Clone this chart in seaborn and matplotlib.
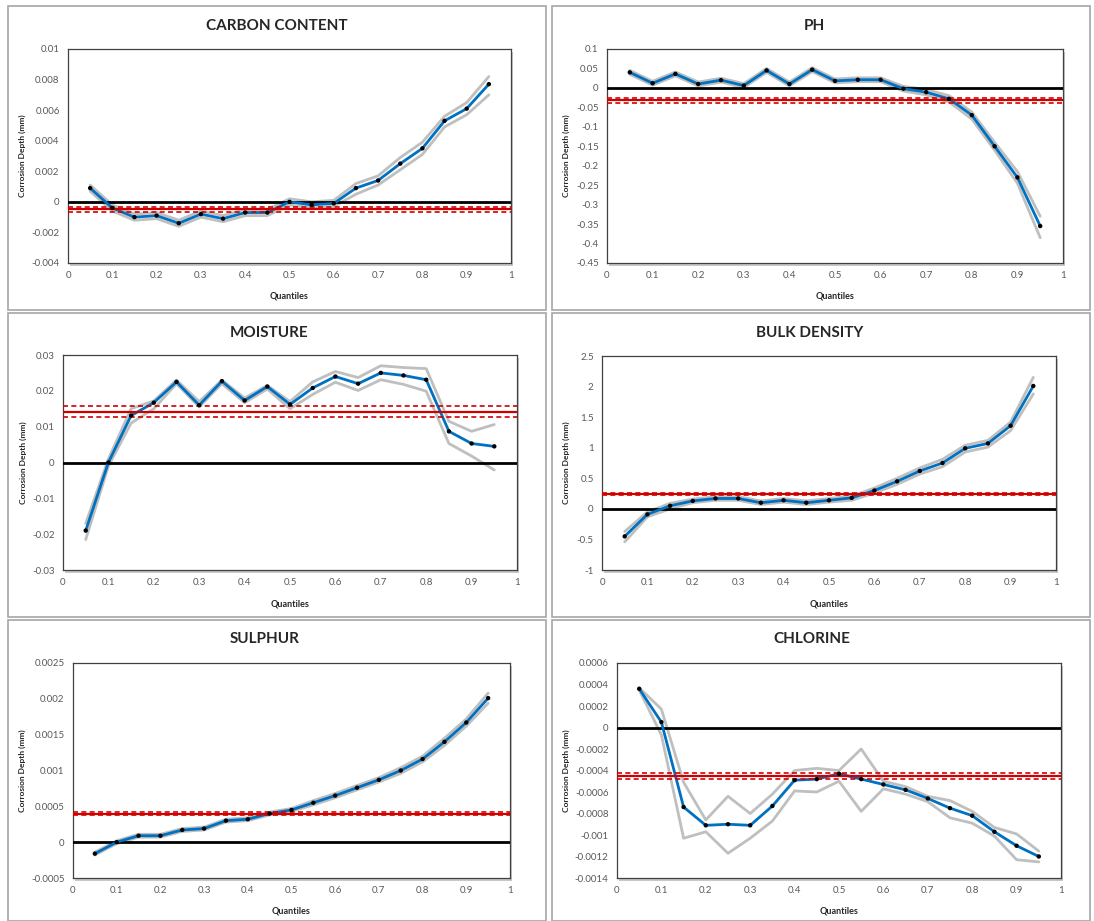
import matplotlib
matplotlib.use("Agg")
import matplotlib.pyplot as plt
import matplotlib.ticker as mticker
from matplotlib.patches import Rectangle
import pandas as pd
import seaborn as sns

# =========================================================
# データ
# =========================================================
quantiles = [0.05, 0.1, 0.15, 0.2, 0.25, 0.3, 0.35, 0.4, 0.45, 0.5,
             0.55, 0.6, 0.65, 0.7, 0.75, 0.8, 0.85, 0.9, 0.95]

carbon_mean = [0.0009, -0.0004, -0.001, -0.0009, -0.0014, -0.0008, -0.0011, -0.0007, -0.0007, 0.0,
               -0.0002, -0.0001, 0.0009, 0.0014, 0.0025, 0.0035, 0.0053, 0.0061, 0.0077]
carbon_upper = [0.0011, -0.0002, -0.0008, -0.0007, -0.0012, -0.0006, -0.0009, -0.0005, -0.0005, 0.0002,
                0.0, 0.0001, 0.0012, 0.0017, 0.0029, 0.0039, 0.0056, 0.0065, 0.0082]
carbon_lower = [0.0007, -0.0006, -0.0012, -0.0011, -0.0016, -0.001, -0.0013, -0.0009, -0.0009, -0.0002,
                -0.0004, -0.0003, 0.0005, 0.0011, 0.0021, 0.0031, 0.0049, 0.0057, 0.007]
carbon_ref = [-0.0005, -0.00033, -0.00067]

ph_mean = [0.04, 0.012, 0.036, 0.01, 0.02, 0.006, 0.045, 0.01, 0.047, 0.018,
           0.021, 0.021, -0.002, -0.011, -0.028, -0.07, -0.15, -0.23, -0.355]
ph_upper = [0.045, 0.017, 0.041, 0.015, 0.025, 0.011, 0.05, 0.015, 0.052, 0.023,
            0.026, 0.026, 0.004, -0.004, -0.02, -0.062, -0.14, -0.215, -0.33]
ph_lower = [0.035, 0.007, 0.031, 0.005, 0.015, 0.001, 0.04, 0.005, 0.042, 0.013,
            0.016, 0.016, -0.008, -0.018, -0.036, -0.08, -0.16, -0.245, -0.385]
ph_ref = [-0.032, -0.025, -0.04]

moisture_mean = [-0.019, 0.0, 0.0131, 0.0167, 0.0225, 0.016, 0.0227, 0.0173, 0.0212, 0.0162,
                 0.0208, 0.024, 0.022, 0.025, 0.0243, 0.0231, 0.0087, 0.0053, 0.0045]
moisture_upper = [-0.017, 0.001, 0.015, 0.0172, 0.023, 0.017, 0.023, 0.018, 0.0215, 0.017,
                  0.0225, 0.0254, 0.0237, 0.027, 0.0265, 0.0262, 0.0115, 0.0087, 0.0106]
moisture_lower = [-0.0215, -0.001, 0.011, 0.015, 0.022, 0.0155, 0.022, 0.0167, 0.0205, 0.015,
                  0.019, 0.0224, 0.0201, 0.0231, 0.0218, 0.0199, 0.0053, 0.0018, -0.0021]
moisture_ref = [0.0142, 0.0157, 0.0126]

bulk_mean = [-0.45, -0.09, 0.05, 0.13, 0.17, 0.17, 0.1, 0.14, 0.1, 0.14,
             0.18, 0.3, 0.45, 0.62, 0.75, 0.99, 1.07, 1.36, 2.01]
bulk_upper = [-0.37, -0.05, 0.09, 0.16, 0.2, 0.2, 0.13, 0.17, 0.13, 0.17,
              0.21, 0.34, 0.5, 0.67, 0.81, 1.04, 1.12, 1.42, 2.15]
bulk_lower = [-0.54, -0.13, 0.0, 0.1, 0.14, 0.14, 0.07, 0.11, 0.07, 0.11,
              0.14, 0.26, 0.4, 0.57, 0.69, 0.93, 1.01, 1.28, 1.88]
bulk_ref = [0.242, 0.222, 0.262]

sulphur_mean = [-0.00016, 0.0, 0.00009, 0.00009, 0.00017, 0.00019, 0.0003, 0.00032, 0.0004, 0.00045,
                0.00055, 0.00065, 0.00076, 0.00087, 0.001, 0.00116, 0.0014, 0.00167, 0.00201]
sulphur_upper = [-0.00014, 0.00002, 0.00011, 0.00011, 0.00019, 0.00021, 0.00032, 0.00034, 0.00042, 0.00047,
                 0.00058, 0.00068, 0.00079, 0.0009, 0.00104, 0.0012, 0.00145, 0.00172, 0.00208]
sulphur_lower = [-0.00018, -0.00002, 0.00007, 0.00007, 0.00015, 0.00017, 0.00028, 0.0003, 0.00038, 0.00043,
                 0.00052, 0.00062, 0.00073, 0.00084, 0.00096, 0.00112, 0.00135, 0.00162, 0.00194]
sulphur_ref = [0.0004, 0.000382, 0.000418]

chlorine_mean = [0.00036, 0.00005, -0.00074, -0.00091, -0.0009, -0.00091, -0.00073, -0.00049, -0.00048, -0.00043,
                 -0.00048, -0.00053, -0.00058, -0.00066, -0.00075, -0.00082, -0.00097, -0.0011, -0.0012]
chlorine_upper = [0.00037, 0.00017, -0.00051, -0.00086, -0.00064, -0.0008, -0.00062, -0.0004, -0.00038, -0.0004,
                  -0.0002, -0.0005, -0.00055, -0.00064, -0.00068, -0.00078, -0.00093, -0.00099, -0.00115]
chlorine_lower = [0.00035, -0.00007, -0.00103, -0.00097, -0.00117, -0.00103, -0.00087, -0.00059, -0.0006, -0.0005,
                  -0.00078, -0.00057, -0.00062, -0.00069, -0.00084, -0.00089, -0.00101, -0.00123, -0.00125]
chlorine_ref = [-0.00045, -0.00042, -0.00048]

# =========================================================
# 共通設定
# =========================================================
sns.set_style("white")
plt.rcParams['font.family'] = ['Lato', 'DejaVu Sans']

W, H = 1094, 921
fig = plt.figure(figsize=(W / 100, H / 100), dpi=100)

BLUE = '#0070C0'
GRAY = '#BFBFBF'
RED = '#D00000'


def px_rect(l, t, r, b):
    return [l / W, 1 - b / H, (r - l) / W, (b - t) / H]


def fmt(v, pos):
    v = round(v, 6)
    if v == 0:
        return '0'
    return f"{v:g}"


# パネル: (タイトル, mean, upper, lower, ref, ylim, ystep, 枠, プロット領域, タイトル位置, ylabel x, xlabel y)
panels = [
    ("CARBON CONTENT", carbon_mean, carbon_upper, carbon_lower, carbon_ref,
     (-0.004, 0.01), 0.002, (8, 6, 546, 310), (68, 49, 511, 263), (277, 26), 26, 292),
    ("PH", ph_mean, ph_upper, ph_lower, ph_ref,
     (-0.45, 0.1), 0.05, (552, 6, 1090, 310), (607, 49, 1063, 263), (814, 26), 570, 292),
    ("MOISTURE", moisture_mean, moisture_upper, moisture_lower, moisture_ref,
     (-0.03, 0.03), 0.01, (8, 313, 546, 617), (63, 355, 517, 570), (269, 333), 27, 599),
    ("BULK DENSITY", bulk_mean, bulk_upper, bulk_lower, bulk_ref,
     (-1, 2.5), 0.5, (552, 313, 1090, 617), (602, 356, 1056, 570), (810, 333), 570, 599),
    ("SULPHUR", sulphur_mean, sulphur_upper, sulphur_lower, sulphur_ref,
     (-0.0005, 0.0025), 0.0005, (8, 620, 546, 921), (73, 663, 510, 878), (265, 639), 26, 906),
    ("CHLORINE", chlorine_mean, chlorine_upper, chlorine_lower, chlorine_ref,
     (-0.0014, 0.0006), 0.0002, (552, 620, 1090, 921), (617, 663, 1061, 878), (812, 639), 570, 906),
]

for (title, mean, upper, lower, ref, ylim, ystep, frame, area, tpos, ylx, xly) in panels:
    l, t, r, b = area
    # 外枠（チャートエリア）
    fig.patches.append(Rectangle((frame[0] / W, 1 - frame[3] / H),
                                 (frame[2] - frame[0]) / W, (frame[3] - frame[1]) / H,
                                 transform=fig.transFigure, fill=False,
                                 edgecolor='#A6A6A6', linewidth=1.2, zorder=-10))
    # プロットエリアの影
    fig.patches.append(Rectangle(((l + 2) / W, 1 - (b + 3) / H), (r - l) / W, (b - t) / H,
                                 transform=fig.transFigure, facecolor='#C8C8C8',
                                 edgecolor='none', zorder=-10))

    ax = fig.add_axes(px_rect(*area))
    ax.set_zorder(5)
    ax.set_facecolor('white')
    df = pd.DataFrame({'q': quantiles, 'mean': mean, 'upper': upper, 'lower': lower})

    # 上下の信頼区間（灰色）
    sns.lineplot(data=df, x='q', y='upper', color=GRAY, linewidth=2, ax=ax, zorder=2)
    sns.lineplot(data=df, x='q', y='lower', color=GRAY, linewidth=2, ax=ax, zorder=2)
    # ゼロ線
    ax.axhline(0, color='black', linewidth=2, zorder=3)
    # 平均値（青線）
    sns.lineplot(data=df, x='q', y='mean', color=BLUE, linewidth=2, ax=ax, zorder=4)
    # 基準線（赤）
    ax.axhline(ref[0], color=RED, linewidth=1.6, zorder=5)
    ax.axhline(ref[1], color=RED, linewidth=1.2, linestyle=(0, (3, 2)), zorder=5)
    ax.axhline(ref[2], color=RED, linewidth=1.2, linestyle=(0, (3, 2)), zorder=5)
    # 黒点
    sns.scatterplot(data=df, x='q', y='mean', color='black', s=10, edgecolor='none',
                    ax=ax, zorder=6)

    ax.set_xlim(0, 1)
    ax.set_ylim(*ylim)
    ax.xaxis.set_major_locator(mticker.MultipleLocator(0.1))
    ax.yaxis.set_major_locator(mticker.MultipleLocator(ystep))
    ax.xaxis.set_major_formatter(mticker.FuncFormatter(fmt))
    ax.yaxis.set_major_formatter(mticker.FuncFormatter(fmt))
    ax.tick_params(labelsize=7, colors='#595959', length=0, pad=6)
    for s in ax.spines.values():
        s.set_color('#404040')
        s.set_linewidth(0.9)

    ax.set_xlabel('Quantiles', fontsize=6.5, fontweight='bold')
    ax.set_ylabel('Corrosion Depth (mm)', fontsize=6, fontweight='bold')
    ax.yaxis.set_label_coords((ylx - l) / (r - l), 0.5)
    ax.xaxis.set_label_coords(0.5, (b - xly) / (b - t))

    fig.text(tpos[0] / W, 1 - tpos[1] / H, title, fontsize=11, fontweight='bold',
             ha='center', va='center')

fig.savefig('out.png', dpi=100, facecolor='white')
